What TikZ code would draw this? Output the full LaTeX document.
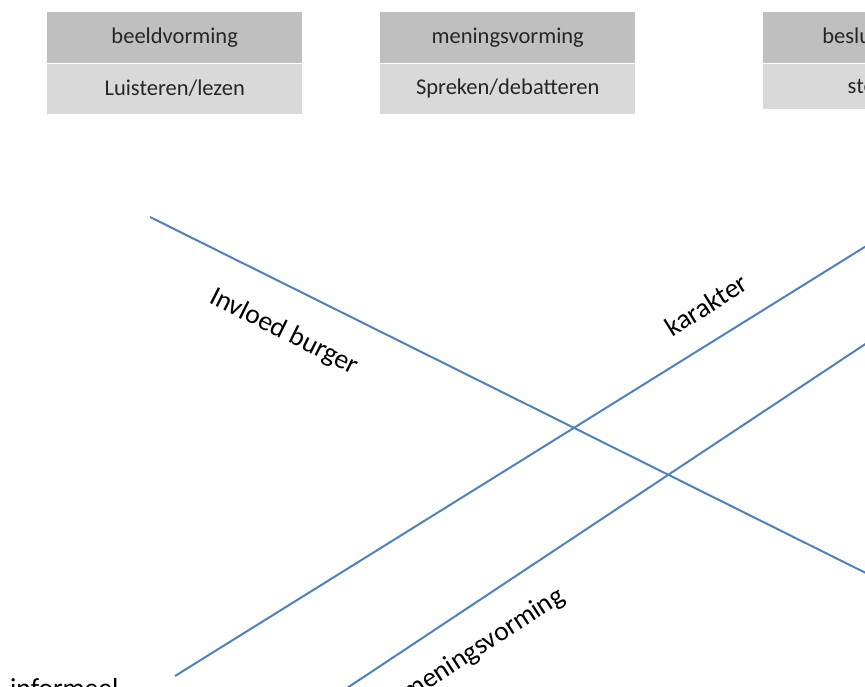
\documentclass[tikz,border=0pt]{standalone}
\usepackage{fontspec}
\setmainfont{Carlito}
\usepackage{tikz}
\usetikzlibrary{positioning}
\definecolor{LineBlue}{RGB}{79,129,189}
\definecolor{HeadGray}{RGB}{191,191,191}
\definecolor{BodyGray}{RGB}{217,217,217}
\definecolor{TextGray}{RGB}{38,38,38}

\begin{document}
\begin{tikzpicture}[x=1pt, y=-1pt,
		fase/.style={fill=HeadGray, text=TextGray, minimum width=255pt, minimum height=51pt, inner sep=0pt, font=\fontsize{22.5}{25}\selectfont},
		actie/.style={fill=BodyGray, text=TextGray, minimum width=255pt, minimum height=50pt, inner sep=0pt, font=\fontsize{22.5}{25}\selectfont},
		lijn/.style={LineBlue, line width=2pt},
		tekst/.style={inner sep=0pt, font=\fontsize{27.5}{30}\selectfont}]
		
		\useasboundingbox (0,0) rectangle (865,686);
		\clip (0,0) rectangle (865,686);
		
		% fasen met activiteit
		\node[fase, anchor=north west] (beeld) at (47,12) {beeldvorming};
		\node[actie, below=0pt of beeld] (luister) {Luisteren/lezen};
		\node[fase, anchor=north west] (mening) at (380,12) {meningsvorming};
		\node[actie, below=0pt of mening] (spreek) {Spreken/debatteren};
		\node[fase, anchor=north west] (besluit) at (763,12) {besluitvorming};
		\node[actie, minimum height=45pt, below=0pt of besluit] (stem) {stemmen};
		
		% assen
		\coordinate (A1) at (150,217);
		\coordinate (A2) at (900,590);
		\coordinate (B1) at (175,676);
		\coordinate (B2) at (900,225);
		\coordinate (C1) at (329,700);
		\coordinate (C2) at (900,321);
		
		\draw[lijn] (A1) -- (A2);
		\draw[lijn] (B1) -- (B2);
		\draw[lijn] (C1) -- (C2);
		
		% labels
		\node[tekst, rotate=-26.5] (burger) at (284,332) {Invloed burger};
		\node[tekst, rotate=32] (karakter) at (706,305) {karakter};
		\node[tekst, rotate=33] (vorming) at (484,645) {meningsvorming};
		\node[tekst, anchor=base west] (informeel) at (10,697) {informeel};
	\end{tikzpicture}
\end{document}
